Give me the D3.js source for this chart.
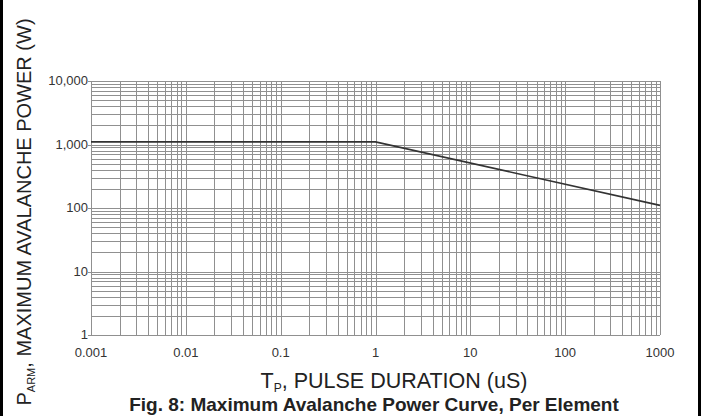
<!DOCTYPE html>
<html lang="en">
<head>
  <meta charset="utf8">
  <script src="https://cdn.jsdelivr.net/npm/d3@7"></script>
  <title>Fig. 8</title>
  <style>
    body { margin: 0; background: #fff; }
    svg { display: block; font-family: Arial, "Liberation Sans", sans-serif; }
  </style>
</head>
<body>
<div id="chart"></div>
<script>
  // pulse duration (uS) and max avalanche power (W)
  var pulseUs = [0.001, 1, 1000];
  var powerW = [1100, 1100, 110];
  var xTickVals = [0.001, 0.01, 0.1, 1, 10, 100, 1000];
  var xTickText = ["0.001", "0.01", "0.1", "1", "10", "100", "1000"];
  var yTickVals = [1, 10, 100, 1000, 10000];
  var yTickText = ["1", "10", "100", "1,000", "10,000"];

  var width = 701, height = 416;
  var plot = { left: 91, right: 660, top: 81, bottom: 335 };

  var svg = d3.select("#chart").append("svg")
    .attr("width", width).attr("height", height);

  // black side strips
  svg.append("rect").attr("x", 0).attr("y", 0).attr("width", 3).attr("height", height).attr("fill", "#000");
  svg.append("rect").attr("x", 698).attr("y", 0).attr("width", 3).attr("height", height).attr("fill", "#000");

  var x = d3.scaleLog().domain([0.001, 1000]).range([plot.left, plot.right]);
  var y = d3.scaleLog().domain([1, 10000]).range([plot.bottom, plot.top]);

  // minor + major grid (1..9 each decade)
  var xGrid = [], yGrid = [];
  for (var e = -3; e < 3; e++) for (var m = 1; m < 10; m++) xGrid.push(m * Math.pow(10, e));
  xGrid.push(1000);
  for (var e2 = 0; e2 < 4; e2++) for (var m2 = 1; m2 < 10; m2++) yGrid.push(m2 * Math.pow(10, e2));
  yGrid.push(10000);

  var grid = svg.append("g").attr("stroke", "#909090").attr("stroke-width", 1);
  grid.selectAll("line.v").data(xGrid).enter().append("line")
    .attr("class", "v")
    .attr("x1", function (d) { return Math.round(x(d)) + 0.5; })
    .attr("x2", function (d) { return Math.round(x(d)) + 0.5; })
    .attr("y1", plot.top).attr("y2", plot.bottom);
  grid.selectAll("line.h").data(yGrid).enter().append("line")
    .attr("class", "h")
    .attr("y1", function (d) { return Math.round(y(d)) + 0.5; })
    .attr("y2", function (d) { return Math.round(y(d)) + 0.5; })
    .attr("x1", function (d) { return yTickVals.indexOf(d) >= 0 ? plot.left - 3 : plot.left; })
    .attr("x2", plot.right);

  // tick labels
  svg.append("g").selectAll("text").data(yTickVals).enter().append("text")
    .attr("x", plot.left - 3)
    .attr("y", function (d) { return y(d) + 4; })
    .attr("text-anchor", "end")
    .attr("font-size", 13).attr("fill", "#333")
    .text(function (d, i) { return yTickText[i]; });

  svg.append("g").selectAll("text").data(xTickVals).enter().append("text")
    .attr("x", function (d) { return x(d); })
    .attr("y", plot.bottom + 22)
    .attr("text-anchor", "middle")
    .attr("font-size", 13).attr("fill", "#333")
    .text(function (d, i) { return xTickText[i]; });

  // curve
  var line = d3.line()
    .x(function (d) { return x(d[0]); })
    .y(function (d) { return y(d[1]); });
  svg.append("path")
    .datum(d3.zip(pulseUs, powerW))
    .attr("d", line)
    .attr("fill", "none").attr("stroke", "#333").attr("stroke-width", 1.6);

  // axis titles
  var xt = svg.append("text")
    .attr("x", 394).attr("y", 388)
    .attr("text-anchor", "middle")
    .attr("font-size", 21.5).attr("fill", "#222");
  xt.append("tspan").text("T");
  xt.append("tspan").attr("font-size", 12).attr("dy", 4).text("P");
  xt.append("tspan").attr("dy", -4).text(", PULSE DURATION (uS)");

  var yt = svg.append("text")
    .attr("transform", "translate(31,212) rotate(-90)")
    .attr("text-anchor", "middle")
    .attr("font-size", 20).attr("fill", "#222");
  yt.append("tspan").text("P");
  yt.append("tspan").attr("font-size", 11).attr("dy", 4).text("ARM");
  yt.append("tspan").attr("dy", -4).text(", MAXIMUM AVALANCHE POWER (W)");

  svg.append("text")
    .attr("x", 374).attr("y", 411)
    .attr("text-anchor", "middle")
    .attr("font-size", 19).attr("font-weight", "bold").attr("fill", "#222")
    .text("Fig. 8: Maximum Avalanche Power Curve, Per Element");
</script>
</body>
</html>
